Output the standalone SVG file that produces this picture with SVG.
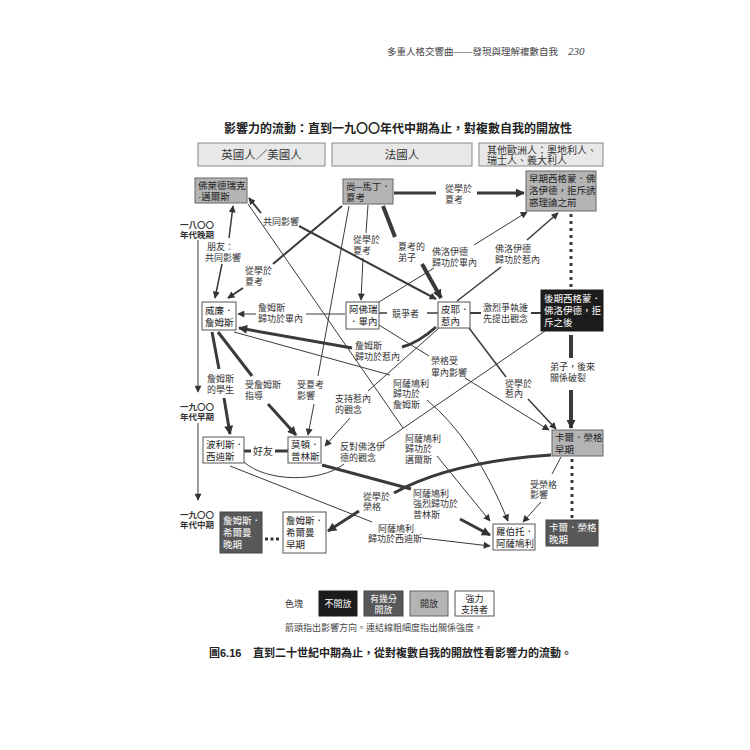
<svg xmlns="http://www.w3.org/2000/svg" width="750" height="750" viewBox="0 0 750 750">
<style>
text{font-family:"Liberation Sans","Noto Sans CJK TC","Noto Sans CJK SC",sans-serif;fill:#333}
.lb{font-size:9px}
.nt{font-size:9.5px;fill:#222}
.wt{font-size:9.5px;fill:#fff}
.ln{stroke:#3a3a3a;fill:none;stroke-linecap:butt}
.s1{stroke-width:1}
.s15{stroke-width:1.5}
.s2{stroke-width:2}
.s3{stroke-width:3}
.s4{stroke-width:4}
.wb{fill:#fff;stroke:#555;stroke-width:1}
.gb{fill:#b4b4b4;stroke:#666;stroke-width:1}
.kb{fill:#1c1c1c;stroke:#1c1c1c;stroke-width:1}
.db{fill:#585858;stroke:#444;stroke-width:1}
.hb{fill:#e8e8e8;stroke:#888;stroke-width:1}
.tl{font-size:8.5px;font-weight:bold;fill:#333}
</style>
<defs>
<marker id="ah" viewBox="0 0 10 10" refX="9" refY="5" markerWidth="8" markerHeight="7" markerUnits="userSpaceOnUse" orient="auto-start-reverse"><path d="M0,0 L10,5 L0,10 z" fill="#333"/></marker>
<marker id="ahL" viewBox="0 0 10 10" refX="9" refY="5" markerWidth="10" markerHeight="9" markerUnits="userSpaceOnUse" orient="auto-start-reverse"><path d="M0,0 L10,5 L0,10 z" fill="#333"/></marker>
</defs>
<rect width="750" height="750" fill="#fff"/>

<g id="page-header">
<text x="387" y="55" style="font-size:9.5px;fill:#444">多重人格交響曲——發現與理解複數自我</text>
<text x="568" y="55" style="font-family:'Liberation Serif',serif;font-style:italic;font-size:11px;fill:#444">230</text>
</g>

<g id="title">
<text x="398" y="133" text-anchor="middle" style="font-size:12px;font-weight:bold;fill:#222">影響力的流動：直到一九〇〇年代中期為止，對複數自我的開放性</text>
</g>

<g id="col-british">
<rect class="hb" x="198" y="143" width="127" height="23"/>
<text x="261.5" y="159" text-anchor="middle" style="font-size:11.5px">英國人／美國人</text>
</g>
<g id="col-french">
<rect class="hb" x="332" y="143" width="140" height="23"/>
<text x="402" y="159" text-anchor="middle" style="font-size:11.5px">法國人</text>
</g>
<g id="col-other">
<rect class="hb" x="479" y="143" width="124" height="23"/>
<text x="487" y="154" style="font-size:10px">其他歐洲人：奧地利人、<tspan x="487" dy="10">瑞士人、義大利人</tspan></text>
</g>

<g id="timeline">
<text class="tl" x="180" y="228">一八〇〇<tspan x="180" dy="9.5">年代晚期</tspan></text>
<line class="ln s1" x1="198" y1="240" x2="198" y2="392" marker-end="url(#ah)"/>
<text class="tl" x="180" y="410">一九〇〇<tspan x="180" dy="9.5">年代早期</tspan></text>
<line class="ln s1" x1="198" y1="423" x2="198" y2="500" marker-end="url(#ah)"/>
<text class="tl" x="180" y="518">一九〇〇<tspan x="180" dy="9.5">年代中期</tspan></text>
</g>

<g id="connectors">
<line class="ln s3" x1="394" y1="193" x2="436" y2="193"/>
<line class="ln s3" x1="477" y1="193" x2="524" y2="193" marker-end="url(#ahL)"/>
<text class="lb" x="445" y="192">從學於<tspan x="445" dy="11">夏考</tspan></text>

<line class="ln s3" x1="571" y1="214" x2="571" y2="290" stroke-dasharray="3 4"/>

<line class="ln s4" x1="571" y1="335" x2="571" y2="358"/>
<line class="ln s4" x1="571" y1="390" x2="571" y2="428" marker-end="url(#ahL)"/>
<text class="lb" x="550" y="370">弟子，後來<tspan x="550" dy="11">關係破裂</tspan></text>

<line class="ln s3" x1="572" y1="459" x2="572" y2="519" stroke-dasharray="3 4"/>

<line class="ln s15" x1="233" y1="206" x2="229" y2="238" marker-start="url(#ah)"/>
<line class="ln s15" x1="222" y1="264" x2="215" y2="298" marker-end="url(#ah)"/>
<text class="lb" x="207" y="250">朋友：<tspan x="205" dy="11">共同影響</tspan></text>

<line class="ln s2" x1="249" y1="198" x2="261" y2="213" marker-start="url(#ah)"/>
<line class="ln s2" x1="299" y1="226" x2="436" y2="299" marker-end="url(#ah)"/>
<text class="lb" x="263" y="225">共同影響</text>

<line class="ln s1" x1="368" y1="205" x2="366" y2="233"/>
<line class="ln s1" x1="363" y1="258" x2="361" y2="300" marker-end="url(#ah)"/>
<text class="lb" x="353" y="243">從學於<tspan x="353" dy="11">夏考</tspan></text>

<line class="ln s4" x1="383" y1="206" x2="395" y2="237"/>
<line class="ln s4" x1="422" y1="264" x2="441" y2="298" marker-end="url(#ahL)"/>
<text class="lb" x="398" y="250">夏考的<tspan x="398" dy="11">弟子</tspan></text>

<line class="ln s2" x1="342" y1="206" x2="273" y2="264"/>
<line class="ln s2" x1="243" y1="288" x2="228" y2="298" marker-end="url(#ah)"/>
<text class="lb" x="245" y="274">從學於<tspan x="245" dy="11">夏考</tspan></text>

<line class="ln s1" x1="349" y1="206" x2="318" y2="376"/>
<line class="ln s1" x1="314" y1="404" x2="308" y2="435" marker-end="url(#ah)"/>
<text class="lb" x="297" y="388">受夏考<tspan x="297" dy="11">影響</tspan></text>

<line class="ln s1" x1="248" y1="204" x2="403" y2="428"/>
<line class="ln s1" x1="437" y1="456" x2="490" y2="521" marker-end="url(#ah)"/>
<text class="lb" x="405" y="442">阿薩鳩利<tspan x="405" dy="10.3">歸功於</tspan><tspan x="405" dy="10.3">邁爾斯</tspan></text>

<line class="ln s1" x1="234" y1="332" x2="390" y2="375"/>
<path class="ln s1" d="M427,400 Q475,440 508,521" marker-end="url(#ah)"/>
<text class="lb" x="393" y="387">阿薩鳩利<tspan x="393" dy="10.3">歸功於</tspan><tspan x="393" dy="10.3">詹姆斯</tspan></text>

<line class="ln s1" x1="345" y1="314" x2="306" y2="314"/>
<line class="ln s1" x1="256" y1="314" x2="238" y2="314" marker-end="url(#ah)"/>
<text class="lb" x="258" y="311">詹姆斯<tspan x="258" dy="11">歸功於畢內</tspan></text>

<path class="ln s3" d="M436,327 Q418,343 402,347"/>
<line class="ln s3" x1="352" y1="348" x2="239" y2="328" marker-end="url(#ahL)"/>
<text class="lb" x="355" y="349">詹姆斯<tspan x="355" dy="11">歸功於惹內</tspan></text>

<line class="ln s3" x1="212" y1="332" x2="219" y2="369"/>
<line class="ln s3" x1="224" y1="398" x2="230" y2="434" marker-end="url(#ahL)"/>
<text class="lb" x="207" y="382">詹姆斯<tspan x="207" dy="11">的學生</tspan></text>

<line class="ln s3" x1="218" y1="332" x2="252" y2="376"/>
<line class="ln s3" x1="268" y1="404" x2="296" y2="435" marker-end="url(#ahL)"/>
<text class="lb" x="245" y="388">受詹姆斯<tspan x="245" dy="11">指導</tspan></text>

<line class="ln s3" x1="244" y1="451" x2="251" y2="451"/>
<line class="ln s3" x1="275" y1="451" x2="288" y2="451"/>
<text class="lb" x="253" y="455" style="font-size:10px">好友</text>

<line class="ln s1" x1="230" y1="466" x2="372" y2="522"/>
<line class="ln s1" x1="422" y1="538" x2="490" y2="546" marker-end="url(#ah)"/>
<text class="lb" x="378" y="532">阿薩鳩利<tspan x="368" dy="10.3">歸功於西迪斯</tspan></text>

<path class="ln s1" d="M244,462 C266,482 320,483 344,464"/>
<line class="ln s1" x1="383" y1="442" x2="545" y2="331"/>
<text class="lb" x="340" y="450">反對佛洛伊<tspan x="340" dy="11">德的觀念</tspan></text>

<line class="ln s1" x1="439" y1="328" x2="368" y2="391"/>
<line class="ln s1" x1="350" y1="418" x2="325" y2="446" marker-end="url(#ah)"/>
<text class="lb" x="335" y="402">支持惹內<tspan x="335" dy="11">的觀念</tspan></text>

<line class="ln s3" x1="322" y1="465" x2="411" y2="489"/>
<line class="ln s3" x1="460" y1="519" x2="490" y2="535" marker-end="url(#ahL)"/>
<text class="lb" x="413" y="497">阿薩鳩利<tspan x="413" dy="10.3">強烈歸功於</tspan><tspan x="413" dy="10.3">普林斯</tspan></text>

<path class="ln s3" d="M551,455 Q450,462 394,493"/>
<line class="ln s3" x1="359" y1="511" x2="328" y2="531" marker-end="url(#ahL)"/>
<text class="lb" x="363" y="500">從學於<tspan x="363" dy="10.3">榮格</tspan></text>

<line class="ln s1" x1="561" y1="457" x2="552" y2="474"/>
<line class="ln s1" x1="541" y1="502" x2="523" y2="522" marker-end="url(#ah)"/>
<text class="lb" x="530" y="488">受榮格<tspan x="530" dy="10.3">影響</tspan></text>

<line class="ln s15" x1="469" y1="328" x2="506" y2="377"/>
<line class="ln s15" x1="528" y1="399" x2="556" y2="429" marker-end="url(#ah)"/>
<text class="lb" x="505" y="387">從學於<tspan x="505" dy="10.3">惹內</tspan></text>

<line class="ln s1" x1="379" y1="325" x2="429" y2="356"/>
<line class="ln s1" x1="465" y1="378" x2="549" y2="430" marker-end="url(#ah)"/>
<text class="lb" x="431" y="364">榮格受<tspan x="431" dy="12">畢內影響</tspan></text>

<line class="ln s15" x1="379" y1="313" x2="387" y2="313"/>
<line class="ln s15" x1="427" y1="313" x2="438" y2="313"/>
<text class="lb" x="392" y="317">競爭者</text>

<line class="ln s2" x1="470" y1="313" x2="481" y2="313"/>
<line class="ln s2" x1="531" y1="313" x2="541" y2="313"/>
<text class="lb" x="483" y="311">激烈爭執誰<tspan x="483" dy="11">先提出觀念</tspan></text>

<line class="ln s15" x1="457" y1="301" x2="501" y2="267"/>
<line class="ln s15" x1="527" y1="240" x2="558" y2="213" marker-end="url(#ah)"/>
<text class="lb" x="495" y="252">佛洛伊德<tspan x="495" dy="11">歸功於惹內</tspan></text>

<line class="ln s1" x1="379" y1="302" x2="434" y2="268"/>
<line class="ln s1" x1="474" y1="245" x2="527" y2="212" marker-end="url(#ah)"/>
<text class="lb" x="432" y="255">佛洛伊德<tspan x="432" dy="11">歸功於畢內</tspan></text>

<line class="ln s3" x1="265" y1="539" x2="279" y2="539" stroke-dasharray="3 2.5"/>
</g>

<g id="node-myers">
<rect class="gb" x="195" y="178" width="52" height="25"/>
<text class="nt" x="198" y="189">佛萊德瑞克<tspan x="198" dy="11">·邁爾斯</tspan></text>
</g>
<g id="node-charcot">
<rect class="gb" x="343" y="179" width="50" height="25"/>
<text class="nt" x="346" y="190">尚─馬丁．<tspan x="346" dy="11">夏考</tspan></text>
</g>
<g id="node-early-freud">
<rect class="gb" x="526" y="171" width="70" height="40"/>
<text class="nt" x="529" y="182">早期西格蒙．佛<tspan x="529" dy="12">洛伊德，拒斥誘</tspan><tspan x="529" dy="12">惑理論之前</tspan></text>
</g>
<g id="node-william-james">
<rect class="wb" x="202" y="302" width="34" height="28"/>
<text class="nt" x="205" y="314">威廉．<tspan x="205" dy="12">詹姆斯</tspan></text>
</g>
<g id="node-binet">
<rect class="wb" x="346" y="302" width="33" height="27"/>
<text class="nt" x="349" y="313">阿佛瑞<tspan x="349" dy="12">．畢內</tspan></text>
</g>
<g id="node-janet">
<rect class="wb" x="438" y="302" width="32" height="26"/>
<text class="nt" x="441" y="313">皮耶．<tspan x="441" dy="12">惹內</tspan></text>
</g>
<g id="node-late-freud">
<rect class="kb" x="541" y="290" width="62" height="41"/>
<text class="wt" x="544" y="302">後期西格蒙．<tspan x="544" dy="12">佛洛伊德，拒</tspan><tspan x="544" dy="12">斥之後</tspan></text>
</g>
<g id="node-sidis">
<rect class="wb" x="203" y="437" width="41" height="26"/>
<text class="nt" x="206" y="448">波利斯．<tspan x="206" dy="12">西迪斯</tspan></text>
</g>
<g id="node-prince">
<rect class="wb" x="288" y="437" width="33" height="26"/>
<text class="nt" x="291" y="448">莫頓．<tspan x="291" dy="12">普林斯</tspan></text>
</g>
<g id="node-early-jung">
<rect class="gb" x="552" y="430" width="51" height="26"/>
<text class="nt" x="555" y="441">卡爾．榮格<tspan x="555" dy="12">早期</tspan></text>
</g>
<g id="node-late-hillman">
<rect class="db" x="220" y="512" width="42" height="41"/>
<text class="wt" x="223" y="524">詹姆斯．<tspan x="223" dy="12">希爾曼</tspan><tspan x="223" dy="12">晚期</tspan></text>
</g>
<g id="node-early-hillman">
<rect class="wb" x="283" y="512" width="43" height="41"/>
<text class="nt" x="286" y="524">詹姆斯．<tspan x="286" dy="12">希爾曼</tspan><tspan x="286" dy="12">早期</tspan></text>
</g>
<g id="node-assagioli">
<rect class="wb" x="493" y="524" width="42" height="26"/>
<text class="nt" x="496" y="535">羅伯托．<tspan x="496" dy="12">阿薩鳩利</tspan></text>
</g>
<g id="node-late-jung">
<rect class="db" x="546" y="520" width="52" height="26"/>
<text class="wt" x="549" y="531">卡爾．榮格<tspan x="549" dy="12">晚期</tspan></text>
</g>

<g id="legend">
<text x="285" y="607" style="font-size:9px">色塊</text>
<rect class="kb" x="319" y="591" width="38" height="25"/>
<text x="338" y="607" text-anchor="middle" class="wt" style="font-size:9px">不開放</text>
<rect class="db" x="364" y="591" width="39" height="25"/>
<text x="383.5" y="602" text-anchor="middle" class="wt" style="font-size:9px">有幾分<tspan x="383.5" dy="11">開放</tspan></text>
<rect class="gb" x="410" y="591" width="38" height="25"/>
<text x="429" y="607" text-anchor="middle" class="nt" style="font-size:9px">開放</text>
<rect class="wb" x="455" y="591" width="39" height="25"/>
<text x="474.5" y="602" text-anchor="middle" class="nt" style="font-size:9px">強力<tspan x="474.5" dy="11">支持者</tspan></text>
<text x="285" y="631" style="font-size:9px;fill:#444">箭頭指出影響方向。連結線粗細度指出關係強度。</text>
</g>

<g id="caption">
<text x="209" y="657" style="font-size:11px;font-weight:bold;fill:#222">圖6.16<tspan x="253">直到二十世紀中期為止，從對複數自我的開放性看影響力的流動。</tspan></text>
</g>
</svg>
